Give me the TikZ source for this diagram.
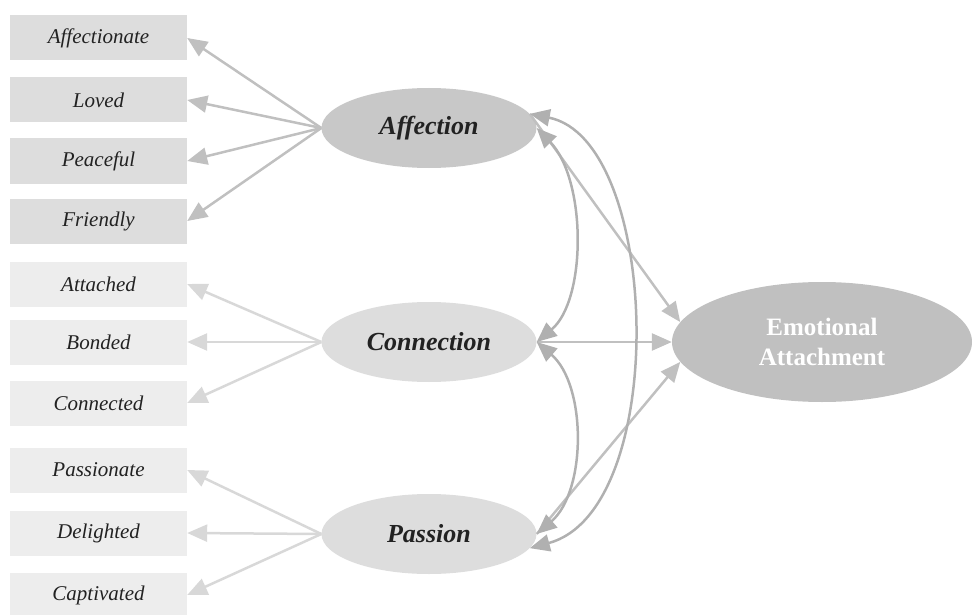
\documentclass[tikz,border=0pt]{standalone}
\usepackage{fontspec}
\setmainfont{Liberation Serif}
\usetikzlibrary{shapes.geometric,arrows.meta}
\definecolor{txt}{RGB}{34,34,34}
\definecolor{boxdark}{RGB}{221,221,221}
\definecolor{boxlight}{RGB}{237,237,237}
\definecolor{facdark}{RGB}{200,200,200}
\definecolor{faclight}{RGB}{221,221,221}
\definecolor{emofill}{RGB}{192,192,192}
\definecolor{lnkdark}{RGB}{192,192,192}
\definecolor{lnklight}{RGB}{216,216,216}
\definecolor{curve}{RGB}{176,176,176}
\tikzset{
  item/.style={rectangle,minimum width=177pt,minimum height=45pt,inner sep=0pt,
    font=\fontsize{21}{24}\selectfont\itshape,text=txt},
  itemdark/.style={item,fill=boxdark},
  itemlight/.style={item,fill=boxlight},
  factor/.style={ellipse,minimum width=215pt,minimum height=80pt,inner sep=0pt,
    font=\fontsize{26}{30}\selectfont\bfseries\itshape,text=txt},
  load/.style={-{Triangle[length=20pt,width=17pt]},line width=2.5pt},
  cov/.style={{Triangle[length=20pt,width=17pt]}-{Triangle[length=20pt,width=17pt]},
    line width=2.5pt,draw=curve}
}
\begin{document}
\begin{tikzpicture}[x=1pt,y=-1pt]
  \useasboundingbox (0,0) rectangle (974,615);
  \draw
    (98.5,38) node[itemdark] (affectionate){Affectionate}
    (98.5,100) node[itemdark] (loved){Loved}
    (98.5,161) node[itemdark] (peaceful){Peaceful}
    (98.5,221) node[itemdark] (friendly){Friendly}
    (98.5,284) node[itemlight] (attached){Attached}
    (98.5,342) node[itemlight] (bonded){Bonded}
    (98.5,403) node[itemlight] (connected){Connected}
    (98.5,470) node[itemlight] (passionate){Passionate}
    (98.5,533) node[itemlight] (delighted){Delighted}
    (98.5,595) node[itemlight] (captivated){Captivated};
  \draw
    (429,128) node[factor,fill=facdark] (aff){Affection}
    (429,342) node[factor,fill=faclight] (con){Connection}
    (429,534) node[factor,fill=faclight] (pas){Passion}
    (822,342) node[ellipse,fill=emofill,minimum width=300pt,minimum height=120pt,
      inner sep=0pt,align=center,text=white,
      font=\fontsize{25}{30}\selectfont\bfseries] (emo){Emotional\\Attachment};
  \begin{scope}[load,draw=lnkdark]
    \draw (aff.west) to (affectionate.east);
    \draw (aff.west) to (loved.east);
    \draw (aff.west) to (peaceful.east);
    \draw (aff.west) to (friendly.east);
  \end{scope}
  \begin{scope}[load,draw=lnklight]
    \draw (con.west) to (attached.east);
    \draw (con.west) to (bonded.east);
    \draw (con.west) to (connected.east);
    \draw (pas.west) to (passionate.east);
    \draw (pas.west) to (delighted.east);
    \draw (pas.west) to (captivated.east);
  \end{scope}
  \begin{scope}[load,draw=lnkdark]
    \draw (aff.8) to (emo.172);
    \draw (con.east) to (emo.west);
    \draw (pas.east) to (emo.188);
  \end{scope}
  \draw[cov] (aff.east) .. controls +(50,52) and +(50,-42) .. (con.east);
  \draw[cov] (con.east) .. controls +(50,43) and +(50,-43) .. (pas.east);
  \draw[cov] (aff.8) .. controls +(131,26) and +(141,-38) .. (pas.-8);
\end{tikzpicture}
\end{document}
